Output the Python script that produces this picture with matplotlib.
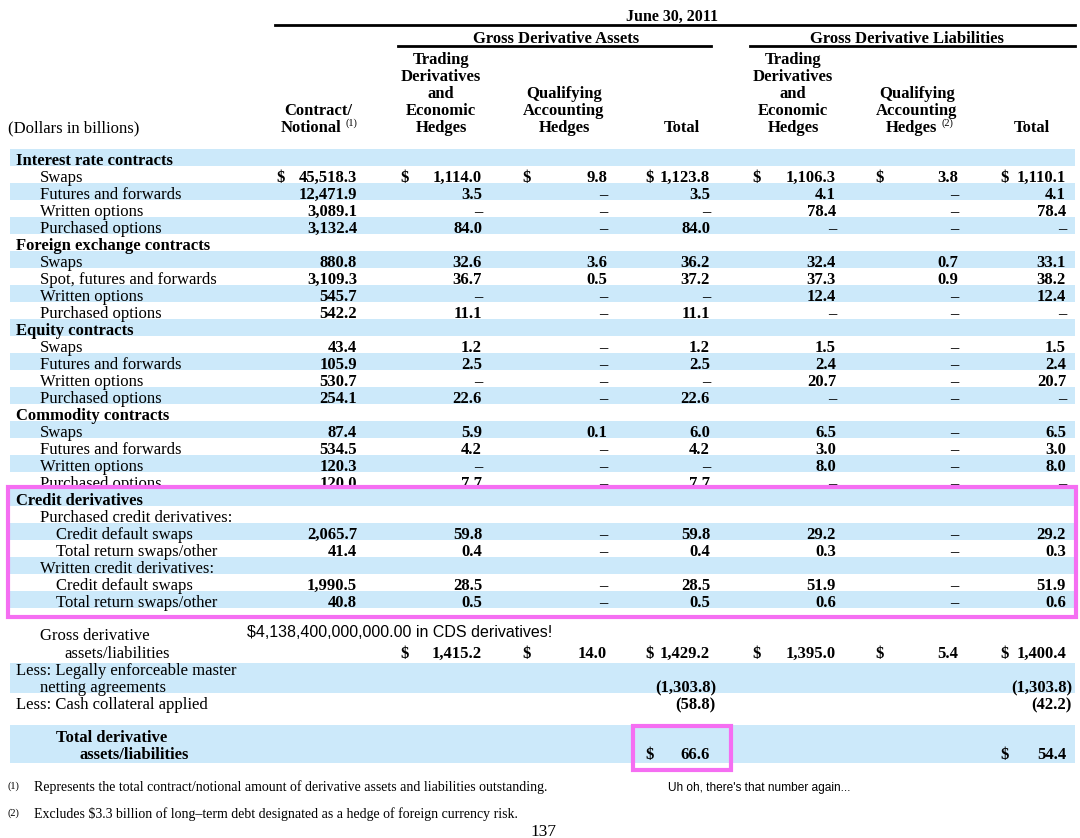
import matplotlib.pyplot as plt
from matplotlib.patches import Rectangle

# ---- data ----
row_labels = ["Interest rate contracts", "Swaps", "Futures and forwards", "Written options", "Purchased options",
              "Foreign exchange contracts", "Swaps", "Spot, futures and forwards", "Written options", "Purchased options",
              "Equity contracts", "Swaps", "Futures and forwards", "Written options", "Purchased options",
              "Commodity contracts", "Swaps", "Futures and forwards", "Written options", "Purchased options",
              "Credit derivatives", "Purchased credit derivatives:", "Credit default swaps", "Total return swaps/other",
              "Written credit derivatives:", "Credit default swaps", "Total return swaps/other"]
row_levels = [0, 1, 1, 1, 1,
              0, 1, 1, 1, 1,
              0, 1, 1, 1, 1,
              0, 1, 1, 1, 1,
              0, 1, 2, 2, 1, 2, 2]

D = "\u2013"
notional = [None, "45,518.3", "12,471.9", "3,089.1", "3,132.4",
            None, "880.8", "3,109.3", "545.7", "542.2",
            None, "43.4", "105.9", "530.7", "254.1",
            None, "87.4", "534.5", "120.3", "120.0",
            None, None, "2,065.7", "41.4", None, "1,990.5", "40.8"]
trading_assets = [None, "1,114.0", "3.5", D, "84.0",
                  None, "32.6", "36.7", D, "11.1",
                  None, "1.2", "2.5", D, "22.6",
                  None, "5.9", "4.2", D, "7.7",
                  None, None, "59.8", "0.4", None, "28.5", "0.5"]
qualifying_assets = [None, "9.8", D, D, D,
                     None, "3.6", "0.5", D, D,
                     None, D, D, D, D,
                     None, "0.1", D, D, D,
                     None, None, D, D, None, D, D]
total_assets = [None, "1,123.8", "3.5", D, "84.0",
                None, "36.2", "37.2", D, "11.1",
                None, "1.2", "2.5", D, "22.6",
                None, "6.0", "4.2", D, "7.7",
                None, None, "59.8", "0.4", None, "28.5", "0.5"]
trading_liab = [None, "1,106.3", "4.1", "78.4", D,
                None, "32.4", "37.3", "12.4", D,
                None, "1.5", "2.4", "20.7", D,
                None, "6.5", "3.0", "8.0", D,
                None, None, "29.2", "0.3", None, "51.9", "0.6"]
qualifying_liab = [None, "3.8", D, D, D,
                   None, "0.7", "0.9", D, D,
                   None, D, D, D, D,
                   None, D, D, D, D,
                   None, None, D, D, None, D, D]
total_liab = [None, "1,110.1", "4.1", "78.4", D,
              None, "33.1", "38.2", "12.4", D,
              None, "1.5", "2.4", "20.7", D,
              None, "6.5", "3.0", "8.0", D,
              None, None, "29.2", "0.3", None, "51.9", "0.6"]
dollar_rows = [1]

gross_values = [None, "1,415.2", "14.0", "1,429.2", "1,395.0", "5.4", "1,400.4"]
netting_values = [None, None, None, "(1,303.8)", None, None, "(1,303.8)"]
cash_values = [None, None, None, "(58.8)", None, None, "(42.2)"]
total_values = [None, None, None, "66.6", None, None, "54.4"]

note_cds = "$4,138,400,000,000.00 in CDS derivatives!"
note_again = "Uh oh, there's that number again..."
footnote_1 = "Represents the total contract/notional amount of derivative assets and liabilities outstanding."
footnote_2 = "Excludes $3.3 billion of long\u2013term debt designated as a hedge of foreign currency risk."

# ---- layout ----
SERIF = "Liberation Serif"
SANS = "Liberation Sans"
FS = 12
BLUE = "#cce9fa"
PINK = "#f56ef2"

col_dollar = [276, 400, 522, 645, 752, 875, 1000]
col_right = [357, 482, 607, 710, 836, 958, 1066]
indent = [16, 40, 56]
PITCH = 17
BASE0 = 165

fig = plt.figure(figsize=(10.8, 8.38), dpi=100)
ax = fig.add_axes([0, 0, 1, 1])
ax.set_xlim(0, 1080)
ax.set_ylim(838, 0)
ax.axis("off")


def txt(x, y, s, ha="left", bold=False, size=FS, family=SERIF, z=3):
    ax.text(x, y, s, ha=ha, va="baseline", fontsize=size, family=family,
            fontweight="bold" if bold else "normal", zorder=z)


def stripe(y0, h, z=0):
    ax.add_patch(Rectangle((10, y0), 1065, h, color=BLUE, lw=0, zorder=z))


def value(ci, y, v, dollar=False, z=3):
    if v is None:
        return
    x = col_right[ci]
    if v.startswith("("):
        x += 6
    txt(x, y, v, ha="right", bold=True, z=z)
    if dollar:
        txt(col_dollar[ci], y, "$", bold=True, z=z)


# header
txt(672, 21, "June 30, 2011", ha="center", bold=True, size=11.5)
ax.plot([275, 1075], [25, 25], color="black", lw=2)
txt(556, 43, "Gross Derivative Assets", ha="center", bold=True)
txt(907, 43, "Gross Derivative Liabilities", ha="center", bold=True)
ax.plot([398, 711], [46, 46], color="black", lw=2)
ax.plot([750, 1075], [46, 46], color="black", lw=2)

hb = [64, 81, 98, 115, 132]
txt(8, 132, "(Dollars in billions)")
txt(318, 115, "Contract/", ha="center", bold=True)
txt(341, 132, "Notional", ha="right", bold=True)
txt(345, 126, "(1)", size=7.5)
for cx in (441, 793):
    for yb, s in zip(hb, ["Trading", "Derivatives", "and", "Economic", "Hedges"]):
        txt(cx, yb, s, ha="center", bold=True)
for yb, s in zip(hb[2:], ["Qualifying", "Accounting", "Hedges"]):
    txt(564, yb, s, ha="center", bold=True)
txt(917, hb[2], "Qualifying", ha="center", bold=True)
txt(917, hb[3], "Accounting", ha="center", bold=True)
txt(937, hb[4], "Hedges", ha="right", bold=True)
txt(941, 126, "(2)", size=7.5)
txt(682, 132, "Total", ha="center", bold=True)
txt(1032, 132, "Total", ha="center", bold=True)

# body rows
columns = [notional, trading_assets, qualifying_assets, total_assets,
           trading_liab, qualifying_liab, total_liab]
for i in range(20):
    yb = BASE0 + PITCH * i
    if i % 2 == 0:
        stripe(yb - 16, PITCH)
    txt(indent[row_levels[i]], yb, row_labels[i], bold=(row_levels[i] == 0))
    for ci, col in enumerate(columns):
        value(ci, yb, col[i], dollar=(i in dollar_rows))

# pasted credit block covers the last commodity row
box_top = 487
ax.add_patch(Rectangle((8, box_top), 1068, 130, facecolor="white", edgecolor="none", zorder=4))
for i in range(20, len(row_labels)):
    yb = BASE0 + PITCH * i
    if i % 2 == 0:
        stripe(yb - 16, PITCH, z=4.1)
    txt(indent[row_levels[i]], yb, row_labels[i], bold=(row_levels[i] == 0), z=5)
    for ci, col in enumerate(columns):
        value(ci, yb, col[i], z=5)
ax.add_patch(Rectangle((8, box_top), 1068, 130, facecolor="none", edgecolor=PINK, lw=3, zorder=6))

# totals section
txt(40, 640, "Gross derivative")
txt(64, 658, "assets/liabilities")
for ci in range(1, 7):
    value(ci, 658, gross_values[ci], dollar=True)
txt(247, 637, note_cds, family=SANS, size=11.5)

stripe(663, 30)
txt(16, 675, "Less: Legally enforceable master")
txt(40, 692, "netting agreements")
for ci in range(7):
    value(ci, 692, netting_values[ci])
txt(16, 709, "Less: Cash collateral applied")
for ci in range(7):
    value(ci, 709, cash_values[ci])

stripe(725, 38)
txt(56, 742, "Total derivative", bold=True)
txt(80, 759, "assets/liabilities", bold=True)
for ci in range(7):
    value(ci, 759, total_values[ci], dollar=True)
ax.add_patch(Rectangle((633, 726), 98, 44, facecolor="none", edgecolor=PINK, lw=3, zorder=6))

txt(668, 791, note_again, family=SANS, size=8.6)

# footnotes
txt(8, 789, "(1)", size=7.5)
txt(34, 791, footnote_1, size=10)
txt(8, 816, "(2)", size=7.5)
txt(34, 818, footnote_2, size=10)
txt(530, 836, "137", size=12.5)

fig.savefig("out.png", dpi=100)
